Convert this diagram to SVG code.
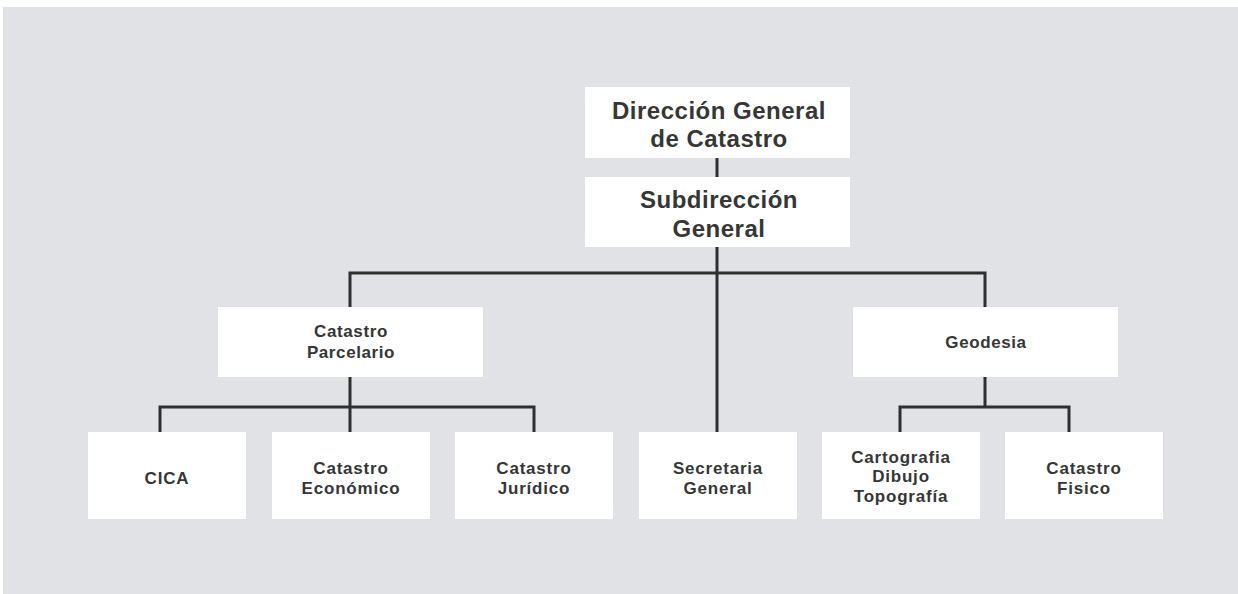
<svg xmlns="http://www.w3.org/2000/svg" width="1238" height="594" viewBox="0 0 1238 594">
<style>
.box{fill:#ffffff}
.t{font-family:"Liberation Sans",Arial,Helvetica,sans-serif;font-weight:bold;fill:#363636;text-anchor:middle}
.big{font-size:24px;letter-spacing:0.5px}
.mid{font-size:17px;letter-spacing:0.6px}
.sm{font-size:17px;letter-spacing:0.8px}
.ln{stroke:#2f2f2f;stroke-width:3;fill:none}
</style>
<rect x="0" y="0" width="1238" height="594" fill="#ffffff"/>
<rect x="3" y="7" width="1235" height="587" fill="#e1e2e5"/>
<g id="connectors">
<line class="ln" x1="717" y1="158" x2="717" y2="177"/>
<line class="ln" x1="717" y1="247" x2="717" y2="432"/>
<polyline class="ln" points="350,307 350,273 985,273 985,307"/>
<line class="ln" x1="350" y1="377" x2="350" y2="432"/>
<polyline class="ln" points="160,432 160,407 534,407 534,432"/>
<line class="ln" x1="985" y1="377" x2="985" y2="407"/>
<polyline class="ln" points="900,432 900,407 1069,407 1069,432"/>
</g>
<g id="n-direccion">
<rect class="box" x="585" y="87" width="265" height="71"/>
<text class="t big" x="719" y="119">Dirección General</text>
<text class="t big" x="719" y="147">de Catastro</text>
</g>
<g id="n-subdireccion">
<rect class="box" x="585" y="177" width="265" height="70"/>
<text class="t big" x="719" y="208">Subdirección</text>
<text class="t big" x="719" y="237">General</text>
</g>
<g id="n-parcelario">
<rect class="box" x="218" y="307" width="265" height="70"/>
<text class="t mid" x="351" y="337">Catastro</text>
<text class="t mid" x="351" y="358">Parcelario</text>
</g>
<g id="n-geodesia">
<rect class="box" x="853" y="307" width="265" height="70"/>
<text class="t mid" x="986" y="348">Geodesia</text>
</g>
<g id="n-cica">
<rect class="box" x="88" y="432" width="158" height="87"/>
<text class="t sm" x="167" y="484">CICA</text>
</g>
<g id="n-economico">
<rect class="box" x="272" y="432" width="158" height="87"/>
<text class="t sm" x="351" y="474">Catastro</text>
<text class="t sm" x="351" y="494">Económico</text>
</g>
<g id="n-juridico">
<rect class="box" x="455" y="432" width="158" height="87"/>
<text class="t sm" x="534" y="474">Catastro</text>
<text class="t sm" x="534" y="494">Jurídico</text>
</g>
<g id="n-secretaria">
<rect class="box" x="639" y="432" width="158" height="87"/>
<text class="t sm" x="718" y="474">Secretaria</text>
<text class="t sm" x="718" y="494">General</text>
</g>
<g id="n-cartografia">
<rect class="box" x="822" y="432" width="158" height="87"/>
<text class="t sm" x="901" y="463">Cartografia</text>
<text class="t sm" x="901" y="482">Dibujo</text>
<text class="t sm" x="901" y="502">Topografía</text>
</g>
<g id="n-fisico">
<rect class="box" x="1005" y="432" width="158" height="87"/>
<text class="t sm" x="1084" y="474">Catastro</text>
<text class="t sm" x="1084" y="494">Fisico</text>
</g>
</svg>
